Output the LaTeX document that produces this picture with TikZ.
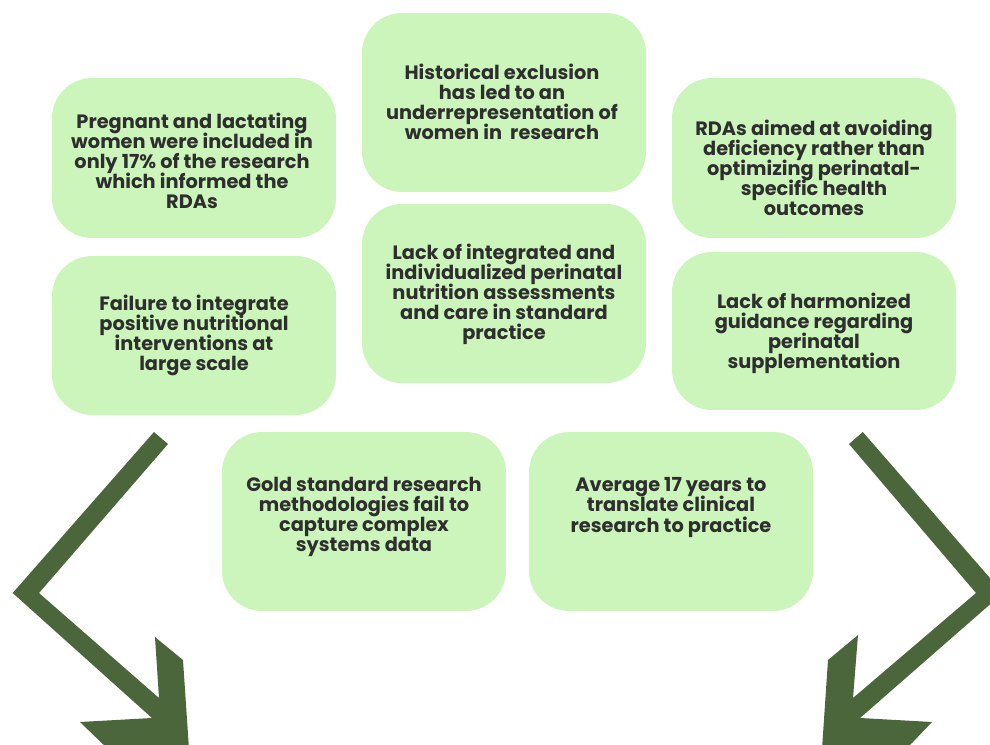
\documentclass[tikz,border=0pt]{standalone}
\usepackage{fontspec}
\setmainfont{Poppins}
\usetikzlibrary{calc}
\definecolor{boxgreen}{HTML}{CCF5BB}
\definecolor{inkgray}{HTML}{2E2E2E}
\definecolor{arrowgreen}{HTML}{4A663A}
\newcommand{\cardfont}{\fontsize{11}{11.4}\selectfont\bfseries
  \lineskiplimit=-8pt\relax\lineskip=0pt\relax}
\begin{document}
\begin{tikzpicture}[x=0.02cm,y=-0.02cm,
  card/.style={fill=boxgreen, draw=none, rounded corners=0.8cm,
    minimum width=5.68cm, inner sep=0pt},
  cardtext/.style={text=inkgray, align=center, inner sep=0pt,
    font=\cardfont}]
\useasboundingbox (0,0) rectangle (990,744);
\clip (0,0) rectangle (990,744);

% cards
\node[card, minimum height=3.20cm] (A) at (194,158) {};
\node[card, minimum height=3.58cm] (B) at (504,102.5) {};
\node[card, minimum height=3.20cm] (C) at (814,158) {};
\node[card, minimum height=3.18cm] (D) at (194,335.5) {};
\node[card, minimum height=3.58cm] (E) at (504,293.5) {};
\node[card, minimum height=3.16cm] (F) at (814,331) {};
\node[card, minimum height=3.58cm] (G) at (364,521.5) {};
\node[card, minimum height=3.58cm] (H) at (671,521.5) {};

% card texts
\node[cardtext] (tA) at ($(A.center)+(-2,3)$) {Pregnant and lactating\\women were included in\\only 17\% of the research\\which informed the\\RDAs};
\node[cardtext] (tB) at ($(B.center)+(-2,-1)$) {Historical exclusion\\has led to an\\underrepresentation of\\women in\ \ research};
\node[cardtext] (tC) at ($(C.center)+(0,10)$) {RDAs aimed at avoiding\\deficiency rather than\\optimizing perinatal-\\specific health\\outcomes};
\node[cardtext] (tD) at (D.center) {Failure to integrate\\positive nutritional\\interventions at\\large scale};
\node[cardtext] (tE) at ($(E.center)+(0,1)$) {Lack of integrated and\\individualized perinatal\\nutrition assessments\\and care in standard\\practice};
\node[cardtext] (tF) at ($(F.center)+(0,2)$) {Lack of harmonized\\guidance regarding\\perinatal\\supplementation};
\node[cardtext] (tG) at ($(G.center)+(0,-5)$) {Gold standard research\\methodologies fail to\\capture complex\\systems data};
\node[cardtext] (tH) at ($(H.center)+(0,-14)$) {Average 17 years to\\translate clinical\\research to practice};

% bent arrows on both sides
\fill[arrowgreen] (154,432) -- (168,444) -- (39,593) -- (159,698) -- (155,637)
  -- (183,660) -- (189,749) -- (110,751) -- (80,722) -- (152,718)
  -- (12.7,593) -- cycle;
\fill[arrowgreen] (862.8,432) -- (1003,593) -- (860,718) -- (932,722)
  -- (912,743) -- (903,751) -- (822,749) -- (828,660) -- (858,635)
  -- (853,698) -- (976,593) -- (849,444) -- cycle;
\end{tikzpicture}
\end{document}
